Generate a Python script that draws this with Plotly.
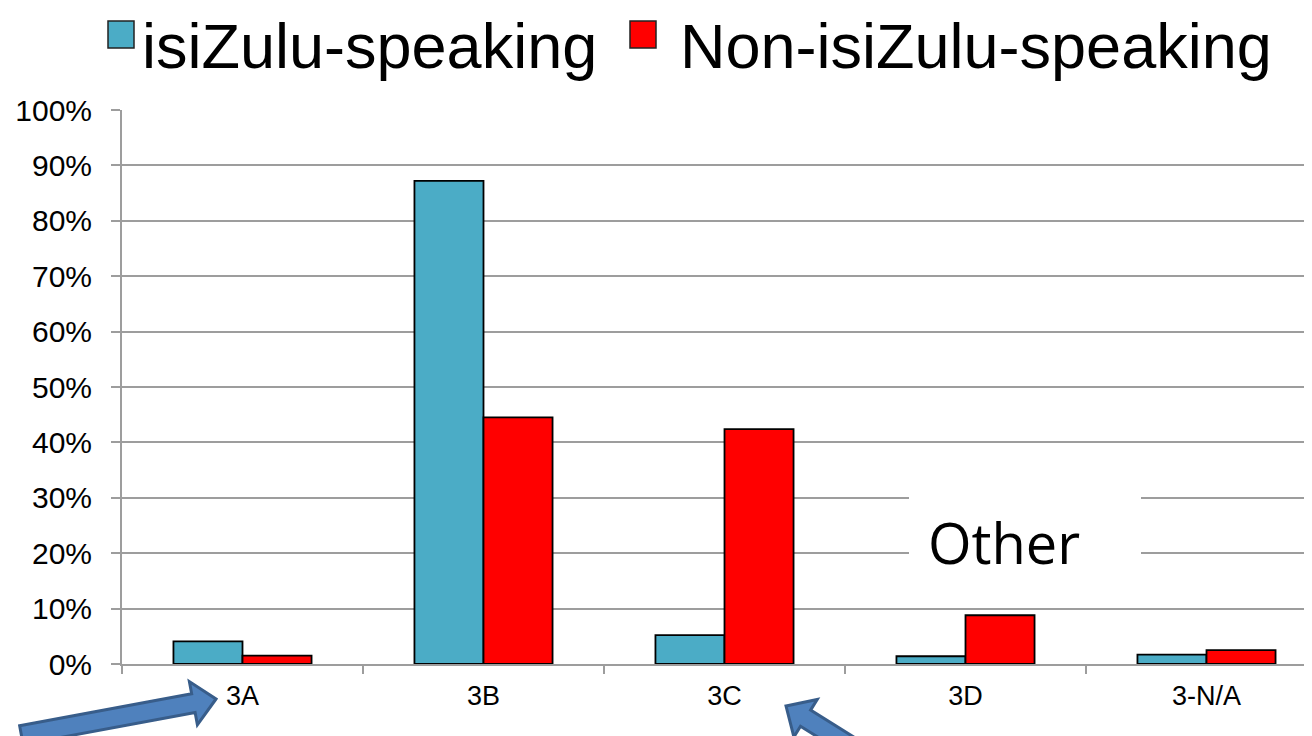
import plotly.graph_objects as go

# ---- data ----
categories = ["3A", "3B", "3C", "3D", "3-N/A"]
series_names = ["isiZulu-speaking", "Non-isiZulu-speaking"]
zulu_values = [4.1, 87.2, 5.2, 1.4, 1.7]
non_zulu_values = [1.5, 44.5, 42.4, 8.8, 2.5]
y_tick_values = [0, 10, 20, 30, 40, 50, 60, 70, 80, 90, 100]
y_tick_labels = [f"{v}%" for v in y_tick_values]
callout_text = "Other"

colors = ["#4BACC6", "#FF0000"]
FONT = "Arial, Liberation Sans, sans-serif"

W, H = 1312, 736
OFF = 8  # page body margin offset in the browser
L, T = 122 - OFF, 110 - OFF
PH = 554
B = H - T - PH
R = 0
PW = W - L - R

# plot area in viewport pixels
VX0, VY1 = L + OFF, T + OFF + PH


def px(x):
    return (x - VX0) / PW


def py(y):
    return (VY1 - y) / PH


fig = go.Figure()
for name, vals, col in zip(series_names, [zulu_values, non_zulu_values], colors):
    fig.add_trace(go.Bar(
        x=categories, y=vals, name=name,
        marker=dict(color=col, line=dict(color="black", width=1.8)),
        showlegend=False,
    ))

unit = 241.0
x_max = -0.5 + PW / unit

fig.update_layout(
    width=W, height=H,
    margin=dict(l=L, r=R, t=T, b=B, autoexpand=False),
    paper_bgcolor="white", plot_bgcolor="white",
    barmode="group", bargap=0.427, bargroupgap=0,
    font=dict(family=FONT, color="black"),
)
fig.update_xaxes(
    type="category", range=[-0.5, x_max], automargin=False,
    showline=True, linecolor="#9D9D9D", linewidth=2,
    ticks="outside", tickson="boundaries", ticklen=8, tickwidth=2, tickcolor="#9D9D9D",
    tickfont=dict(size=27, family=FONT, color="black"),
    ticklabelstandoff=7,
    showgrid=False, zeroline=False,
)
fig.update_yaxes(
    range=[0, 100], tickvals=y_tick_values, ticktext=y_tick_labels, automargin=False,
    showline=True, linecolor="#9D9D9D", linewidth=2,
    ticks="outside", ticklen=9, tickwidth=2, tickcolor="#9D9D9D",
    showgrid=True, gridcolor="#9D9D9D", gridwidth=2,
    zeroline=False,
    tickfont=dict(size=30, family=FONT, color="black"),
    ticklabelstandoff=13,
)

shapes = []
annotations = []

# manual legend (large swatches)
legend_items = [(108, 140), (630, 678)]
for (sx, tx), name, col in zip(legend_items, series_names, colors):
    shapes.append(dict(type="rect", xref="paper", yref="paper",
                       x0=px(sx), x1=px(sx + 26), y0=py(48), y1=py(21),
                       fillcolor=col, line=dict(color="#222222", width=1.5)))
    annotations.append(dict(text=name, xref="paper", yref="paper",
                            x=px(tx), y=py(OFF + 1), xanchor="left", yanchor="top",
                            showarrow=False, font=dict(size=63, family=FONT, color="black")))

# "Other" callout box
shapes.append(dict(type="rect", xref="paper", yref="paper", layer="above",
                   x0=px(909), x1=px(1141), y0=py(588), y1=py(488),
                   fillcolor="white", line=dict(width=0)))
annotations.append(dict(text=callout_text, xref="paper", yref="paper",
                        x=px(1004), y=py(542), xanchor="center", yanchor="middle",
                        showarrow=False, font=dict(size=56, family="Open Sans, sans-serif", color="black")))


def block_arrow(tip, u, head_len, head_half, shaft_half, shaft_len):
    ux, uy = u
    nx, ny = -uy, ux
    tx, ty = tip
    bx, by = tx - head_len * ux, ty - head_len * uy
    pts = [
        (tx, ty),
        (bx + head_half * nx, by + head_half * ny),
        (bx + shaft_half * nx, by + shaft_half * ny),
        (bx + shaft_half * nx - shaft_len * ux, by + shaft_half * ny - shaft_len * uy),
        (bx - shaft_half * nx - shaft_len * ux, by - shaft_half * ny - shaft_len * uy),
        (bx - shaft_half * nx, by - shaft_half * ny),
        (bx - head_half * nx, by - head_half * ny),
    ]
    path = "M " + " L ".join(f"{px(x):.5f},{py(y):.5f}" for x, y in pts) + " Z"
    return dict(type="path", xref="paper", yref="paper", path=path,
                fillcolor="#4F81BD", line=dict(color="#385D8A", width=3), layer="above")


shapes.append(block_arrow((216, 699), (0.983, -0.182), 23, 22, 9.5, 175))
shapes.append(block_arrow((786, 706), (-0.85, -0.53), 23, 22, 9.5, 120))

fig.update_layout(shapes=shapes, annotations=annotations)
fig.write_html("out.html")
